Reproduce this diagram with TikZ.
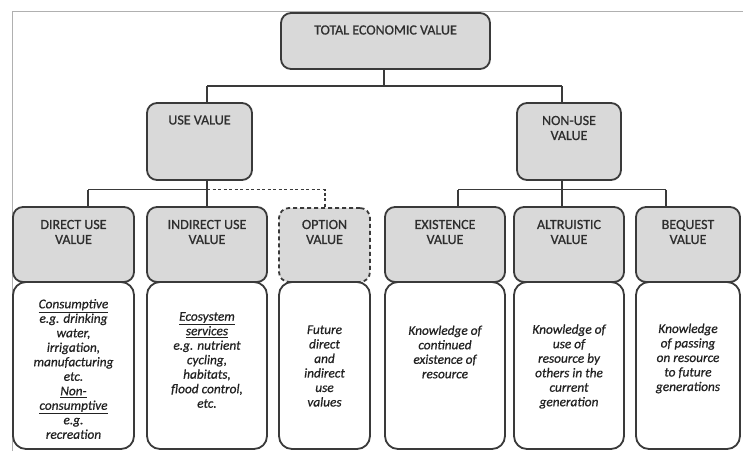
\documentclass[tikz,border=0pt]{standalone}
\usepackage{fontspec}
\setmainfont{Carlito}
\newfontfamily\ttlfont{Carlito}[FakeBold=0.8]
\newfontfamily\bodyfont{Carlito}[ItalicFeatures={FakeBold=0.6}]
\usetikzlibrary{fit}
\definecolor{boxfill}{HTML}{D9D9D9}
\definecolor{boxline}{HTML}{3A3A3A}
\definecolor{ttlcol}{HTML}{2E2E2E}
\definecolor{bodycol}{HTML}{222222}
\definecolor{framecol}{HTML}{B0B0B0}
\tikzset{
  gbox/.style={draw=boxline, fill=boxfill, line width=1.8pt, rounded corners=10pt, inner sep=0pt},
  obox/.style={gbox, dash pattern=on 4pt off 3pt},
  wbox/.style={draw=boxline, fill=white, line width=1.8pt, rounded corners=13pt, inner sep=0pt},
  ttl/.style={font=\ttlfont\fontsize{14}{15}\selectfont, text=ttlcol, align=center, inner sep=0pt},
  body/.style={font=\bodyfont\fontsize{13.3}{14.5}\selectfont\itshape, text=bodycol, align=center, inner sep=0pt},
  conn/.style={draw=boxline, line width=1.5pt},
  dconn/.style={conn, dash pattern=on 3pt off 2.5pt},
  framel/.style={draw=framecol, line width=1pt}
}
\begin{document}
\begin{tikzpicture}[x=1pt,y=-1pt]
\useasboundingbox (0,0) rectangle (747,451);
% frame
\coordinate (fA) at (12,451);
\coordinate (fB) at (12,11);
\coordinate (fC) at (743,11);
\draw[framel] (fA) -- (fB) -- (fC);
% helper coordinates
\coordinate (xU) at (207,0);
\coordinate (xN) at (562,0);
\coordinate (xD) at (88,0);
\coordinate (xO) at (325,0);
\coordinate (xE) at (458,0);
\coordinate (xB) at (666,0);
\coordinate (xT) at (384,0);
\coordinate (y1) at (0,86);
\coordinate (y2) at (0,189.5);
\coordinate (yUb) at (0,180);
\coordinate (yOt) at (0,208);
% connectors (behind boxes)
\draw[conn] (y1 -| xU) -- (y1 -| xN);
\draw[conn] (xU |- y2) -- (xU |- yUb);
\draw[conn] (xN |- y2) -- (xN |- yUb);
\draw[conn] (y2 -| xD) -- (y2 -| xU);
\draw[conn] (y2 -| xE) -- (y2 -| xB);
\draw[dconn] (y2 -| xU) -- (y2 -| xO) -- (xO |- yOt);
% top boxes
\node[gbox, fit={(281,13) (490,69)}] (tev) {};
\node[gbox, fit={(147,103) (252,180)}] (use) {};
\node[gbox, fit={(517,103) (621,180)}] (nonuse) {};
% vertical drops
\draw[conn] (tev.south -| xT) -- (y1 -| xT);
\draw[conn] (y1 -| xU) -- (use.north -| xU);
\draw[conn] (y1 -| xN) -- (nonuse.north -| xN);
% third-level boxes
\node[gbox, fit={(13,207) (134,282)}] (direct) {};
\node[gbox, fit={(147,207) (267,282)}] (indirect) {};
\node[obox, fit={(279,208) (370,282)}] (option) {};
\node[gbox, fit={(385,207) (505,282)}] (exist) {};
\node[gbox, fit={(514,207) (624,282)}] (altru) {};
\node[gbox, fit={(636,207) (740,282)}] (beq) {};
\draw[conn] (y2 -| xD) -- (direct.north -| xD);
\draw[conn] (y2 -| xU) -- (indirect.north -| xU);
\draw[conn] (y2 -| xE) -- (exist.north -| xE);
\draw[conn] (y2 -| xN) -- (altru.north -| xN);
\draw[conn] (y2 -| xB) -- (beq.north -| xB);
% white boxes
\node[wbox, fit={(13,282) (134,449)}] (directw) {};
\node[wbox, fit={(147,282) (267,449)}] (indirectw) {};
\node[wbox, fit={(279,282) (370,449)}] (optionw) {};
\node[wbox, fit={(385,282) (505,449)}] (existw) {};
\node[wbox, fit={(514,282) (624,449)}] (altruw) {};
\node[wbox, fit={(636,282) (740,449)}] (beqw) {};
% titles
\node[ttl] (tevt) at (385.5,30) {TOTAL ECONOMIC VALUE};
\node[ttl] (uset) at (199.5,120) {USE VALUE};
\node[ttl] (nonuset) at (569,128) {NON-USE\\VALUE};
\node[ttl] (directt) at (73.5,232) {DIRECT USE\\VALUE};
\node[ttl] (indirectt) at (207,232) {INDIRECT USE\\VALUE};
\node[ttl] (optiont) at (324.5,232) {OPTION\\VALUE};
\node[ttl] (existt) at (445,232) {EXISTENCE\\VALUE};
\node[ttl] (altrut) at (569,232) {ALTRUISTIC\\VALUE};
\node[ttl] (beqt) at (688,232) {BEQUEST\\VALUE};
% body texts
\node[body] (directb) at (73.5,369) {\underline{Consumptive}\\e.g. drinking\\water,\\irrigation,\\manufacturing\\etc.\\\underline{Non-}\\\underline{consumptive}\\e.g.\\recreation};
\node[body] (indirectb) at (207,360) {\underline{Ecosystem}\\\underline{services}\\e.g. nutrient\\cycling,\\habitats,\\flood control,\\etc.};
\node[body] (optionb) at (324.5,366) {Future\\direct\\and\\indirect\\use\\values};
\node[body] (existb) at (445,352) {Knowledge of\\continued\\existence of\\resource};
\node[body] (altrub) at (569,366.5) {Knowledge of\\use of\\resource by\\others in the\\current\\generation};
\node[body] (beqb) at (688,358.5) {Knowledge\\of passing\\on resource\\to future\\generations};
\end{tikzpicture}
\end{document}
